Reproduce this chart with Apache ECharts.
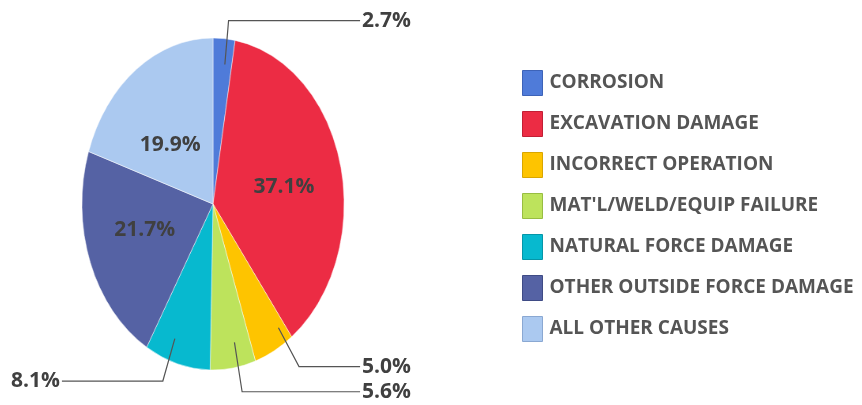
<!DOCTYPE html>
<html>
<head>
<meta charset="utf-8">
<script src="https://cdn.jsdelivr.net/npm/echarts@6/dist/echarts.min.js"></script>
<style>
  html, body { margin: 0; padding: 0; background: #fff; }
  #wrap { position: relative; width: 862px; height: 405px; }
  /* the pie itself is an ellipse: draw a round one and squeeze it */
  #pie { position: absolute; left: 0; top: 0; width: 862px; height: 405px;
         transform: scaleX(0.79); transform-origin: 213px 204px; }
  #labels { position: absolute; left: 0; top: 0; width: 862px; height: 405px; }
</style>
</head>
<body>
<div id="wrap">
  <div id="pie"></div>
  <div id="labels"></div>
</div>
<script>
var categories = ['CORROSION', 'EXCAVATION DAMAGE', 'INCORRECT OPERATION', "MAT'L/WELD/EQUIP FAILURE",
                  'NATURAL FORCE DAMAGE', 'OTHER OUTSIDE FORCE DAMAGE', 'ALL OTHER CAUSES'];
var shares = [2.7, 37.1, 5.0, 5.6, 8.1, 21.7, 19.9];
var colors = ['#4f7bd9', '#ec2c44', '#fec400', '#bde35c', '#07b9cf', '#5562a4', '#abc9f0'];
var borders = ['#3d63b8', '#c21f35', '#d9a600', '#98bd42', '#0596a8', '#3f4b85', '#8aa8d2'];
var insideLabels = ['EXCAVATION DAMAGE', 'OTHER OUTSIDE FORCE DAMAGE', 'ALL OTHER CAUSES'];

var FONT = 'Open Sans';

// bottom layer: coloured slices
var pieChart = echarts.init(document.getElementById('pie'));
pieChart.setOption({
  animation: false,
  series: [{
    type: 'pie',
    center: [213, 204],
    radius: 166,
    startAngle: 90,
    silent: true,
    label: { show: false },
    labelLine: { show: false },
    itemStyle: { borderColor: 'rgba(255,255,255,0.5)', borderWidth: 1 },
    data: categories.map(function (c, i) {
      return { name: c, value: shares[i], itemStyle: { color: colors[i] } };
    })
  }]
});

// top layer: labels, leader lines and legend
var labelChart = echarts.init(document.getElementById('labels'));
labelChart.setOption({
  animation: false,
  legend: {
    orient: 'vertical',
    left: 522,
    top: 70,
    padding: 0,
    itemWidth: 20,
    itemHeight: 25,
    itemGap: 15,
    icon: 'rect',
    selectedMode: false,
    textStyle: { fontFamily: FONT, fontWeight: 'bold', fontSize: 19, color: '#555', padding: [0, 0, 0, 2] },
    data: categories.map(function (c, i) {
      return { name: c, itemStyle: { color: colors[i], borderColor: borders[i], borderWidth: 1 } };
    })
  },
  series: [{
    type: 'pie',
    left: 0,
    top: 0,
    width: 422,
    height: 405,
    center: [213, 204],
    radius: 140,
    startAngle: 90,
    silent: true,
    itemStyle: { color: 'rgba(0,0,0,0)' },
    label: {
      show: true,
      position: 'outside',
      alignTo: 'edge',
      edgeDistance: 11,
      distanceToLabelLine: 2,
      fontFamily: FONT,
      fontWeight: 'bold',
      fontSize: 21,
      color: '#404040',
      formatter: function (p) { return p.value.toFixed(1) + '%'; }
    },
    labelLine: { show: true, length: 44, length2: 10, lineStyle: { color: '#555', width: 1.2 } },
    data: categories.map(function (c, i) {
      var item = { name: c, value: shares[i] };
      if (insideLabels.indexOf(c) >= 0) {
        item.label = { position: 'inside' };
        item.labelLine = { show: false };
      }
      if (c === "MAT'L/WELD/EQUIP FAILURE") {
        item.labelLine = { length: 50 };
      }
      return item;
    })
  }]
});
</script>
</body>
</html>
